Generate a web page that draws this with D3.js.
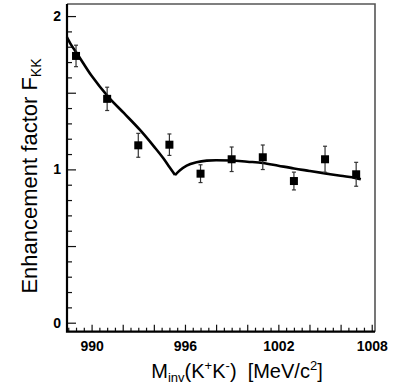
<!DOCTYPE html>
<html>
<head>
<meta charset="utf-8">
<script src="https://cdn.jsdelivr.net/npm/d3@7"></script>
<style>
  body { margin: 0; background: #fff; }
  svg { display: block; font-family: "Liberation Sans", Arial, sans-serif; }
</style>
</head>
<body>
<script>
// measured points (mass in MeV/c^2, enhancement factor, error)
var massPts = [989, 991, 993, 995, 997, 999, 1001, 1003, 1005, 1007];
var factorPts = [1.74, 1.46, 1.157, 1.161, 0.972, 1.066, 1.079, 0.924, 1.066, 0.968];
var errPts = [0.07, 0.076, 0.078, 0.07, 0.058, 0.08, 0.08, 0.058, 0.085, 0.078];

// fit curve, split at the K0 K0bar threshold cusp
var curveLeftX = [988.42, 988.7, 989.06, 990.0, 991.1, 992.1, 993.11, 994.0, 994.61, 995.0, 995.36];
var curveLeftY = [1.862, 1.81, 1.756, 1.61, 1.47, 1.365, 1.257, 1.15, 1.072, 1.015, 0.963];
var curveRightX = [995.36, 995.68, 996.11, 996.75, 997.4, 998, 999, 1000, 1001, 1002, 1003, 1004, 1005, 1006, 1007, 1007.3];
var curveRightY = [0.963, 0.994, 1.024, 1.046, 1.057, 1.06, 1.058, 1.05, 1.042, 1.024, 1.006, 0.99, 0.974, 0.958, 0.943, 0.935];

var xLabelTicks = [990, 996, 1002, 1008];
var yLabelTicks = [0, 1, 2];

var W = 395, H = 389;
var pLeft = 67, pRight = 375, pTop = 4, pBottom = 331.7;

var svg = d3.select("body").append("svg")
    .attr("width", W)
    .attr("height", H);

var x = d3.scaleLinear().domain([988.42, 1008.21]).range([pLeft, pRight]);
var y = d3.scaleLinear().domain([-0.0587, 2.0787]).range([pBottom, pTop]);

// frame (top and right sides)
svg.append("path")
    .attr("d", "M" + pLeft + "," + pTop + "H" + pRight + "V" + pBottom)
    .attr("fill", "none")
    .attr("stroke", "#555")
    .attr("stroke-width", 1.6);

// x axis ticks
var xMinor = d3.range(988.5, 1008.01, 0.5).filter(function(v) { return v % 2 !== 0; });
var xMajor = d3.range(990, 1008.01, 2);

svg.append("g")
    .attr("transform", "translate(0," + pBottom + ")")
    .call(d3.axisBottom(x).tickValues(xMinor).tickSizeInner(-4).tickSizeOuter(0).tickFormat(""))
    .call(function(g) { g.select(".domain").remove(); });

var xAx = svg.append("g")
    .attr("transform", "translate(0," + pBottom + ")")
    .call(d3.axisBottom(x).tickValues(xMajor).tickSizeInner(-7).tickSizeOuter(0).tickPadding(9)
      .tickFormat(function(d) { return xLabelTicks.indexOf(d) >= 0 ? d : ""; }));
xAx.select(".domain").remove();
xAx.selectAll("text")
    .style("font-size", "14px")
    .style("font-weight", "bold")
    .style("font-family", "Liberation Sans, Arial, sans-serif")
    .attr("fill", "#000");

// y axis ticks
var yMinor = d3.range(0, 2.01, 0.1).map(function(v) { return Math.round(v * 10) / 10; })
    .filter(function(v) { return Math.round(v * 10) % 5 !== 0; });
var yMajor = [0, 0.5, 1, 1.5, 2];

svg.append("g")
    .attr("transform", "translate(" + pLeft + ",0)")
    .call(d3.axisLeft(y).tickValues(yMinor).tickSizeInner(-5).tickSizeOuter(0).tickFormat(""))
    .call(function(g) { g.select(".domain").remove(); });

var yAx = svg.append("g")
    .attr("transform", "translate(" + pLeft + ",0)")
    .call(d3.axisLeft(y).tickValues(yMajor).tickSizeInner(-9).tickSizeOuter(0).tickPadding(6)
      .tickFormat(function(d) { return yLabelTicks.indexOf(d) >= 0 ? d : ""; }));
yAx.select(".domain").remove();
yAx.selectAll("text")
    .style("font-size", "14px")
    .style("font-weight", "bold")
    .style("font-family", "Liberation Sans, Arial, sans-serif")
    .attr("fill", "#000");

svg.selectAll(".tick line").attr("stroke", "#111").attr("stroke-width", 1.2);

// left and bottom axis lines
svg.append("path")
    .attr("d", "M" + pLeft + "," + pTop + "V" + pBottom + "H" + pRight)
    .attr("fill", "none")
    .attr("stroke", "#000")
    .attr("stroke-width", 2.2);

// fit curve
var line = d3.line()
    .x(function(d) { return x(d[0]); })
    .y(function(d) { return y(d[1]); })
    .curve(d3.curveMonotoneX);

[[curveLeftX, curveLeftY], [curveRightX, curveRightY]].forEach(function(c) {
  svg.append("path")
      .datum(d3.zip(c[0], c[1]))
      .attr("d", line)
      .attr("fill", "none")
      .attr("stroke", "#000")
      .attr("stroke-width", 2.6);
});

// data points with error bars
var pts = d3.range(massPts.length).map(function(i) {
  return { m: massPts[i], f: factorPts[i], e: errPts[i] };
});

var pg = svg.append("g").selectAll("g").data(pts).enter().append("g");

pg.append("line")
    .attr("x1", function(d) { return x(d.m); })
    .attr("x2", function(d) { return x(d.m); })
    .attr("y1", function(d) { return y(d.f + d.e); })
    .attr("y2", function(d) { return y(d.f - d.e); })
    .attr("stroke", "#333")
    .attr("stroke-width", 1.2);

pg.selectAll(".cap")
    .data(function(d) { return [d.f + d.e, d.f - d.e].map(function(v) { return { m: d.m, v: v }; }); })
    .enter().append("line")
    .attr("class", "cap")
    .attr("x1", function(d) { return x(d.m) - 2; })
    .attr("x2", function(d) { return x(d.m) + 2; })
    .attr("y1", function(d) { return y(d.v); })
    .attr("y2", function(d) { return y(d.v); })
    .attr("stroke", "#333")
    .attr("stroke-width", 1.2);

pg.append("rect")
    .attr("x", function(d) { return x(d.m) - 4; })
    .attr("y", function(d) { return y(d.f) - 4; })
    .attr("width", 8)
    .attr("height", 8)
    .attr("fill", "#000");

// axis titles
var xt = svg.append("text")
    .attr("x", 237)
    .attr("y", 378)
    .attr("text-anchor", "middle")
    .style("font-size", "20px")
    .attr("fill", "#000");
xt.append("tspan").text("M");
xt.append("tspan").attr("dy", 4).style("font-size", "13px").text("inv");
xt.append("tspan").attr("dy", -4).text("(K");
xt.append("tspan").attr("dy", -8).style("font-size", "13px").text("+");
xt.append("tspan").attr("dy", 8).text("K");
xt.append("tspan").attr("dy", -8).style("font-size", "13px").text("-");
xt.append("tspan").attr("dy", 8).text(")\u00a0\u00a0[MeV/c");
xt.append("tspan").attr("dy", -8).style("font-size", "13px").text("2");
xt.append("tspan").attr("dy", 8).text("]");

var yt = svg.append("text")
    .attr("transform", "translate(37,176) rotate(-90)")
    .attr("text-anchor", "middle")
    .style("font-size", "22px")
    .attr("fill", "#000");
yt.append("tspan").text("Enhancement factor F");
yt.append("tspan").attr("dy", 4).style("font-size", "14px").text("KK");
</script>
</body>
</html>
